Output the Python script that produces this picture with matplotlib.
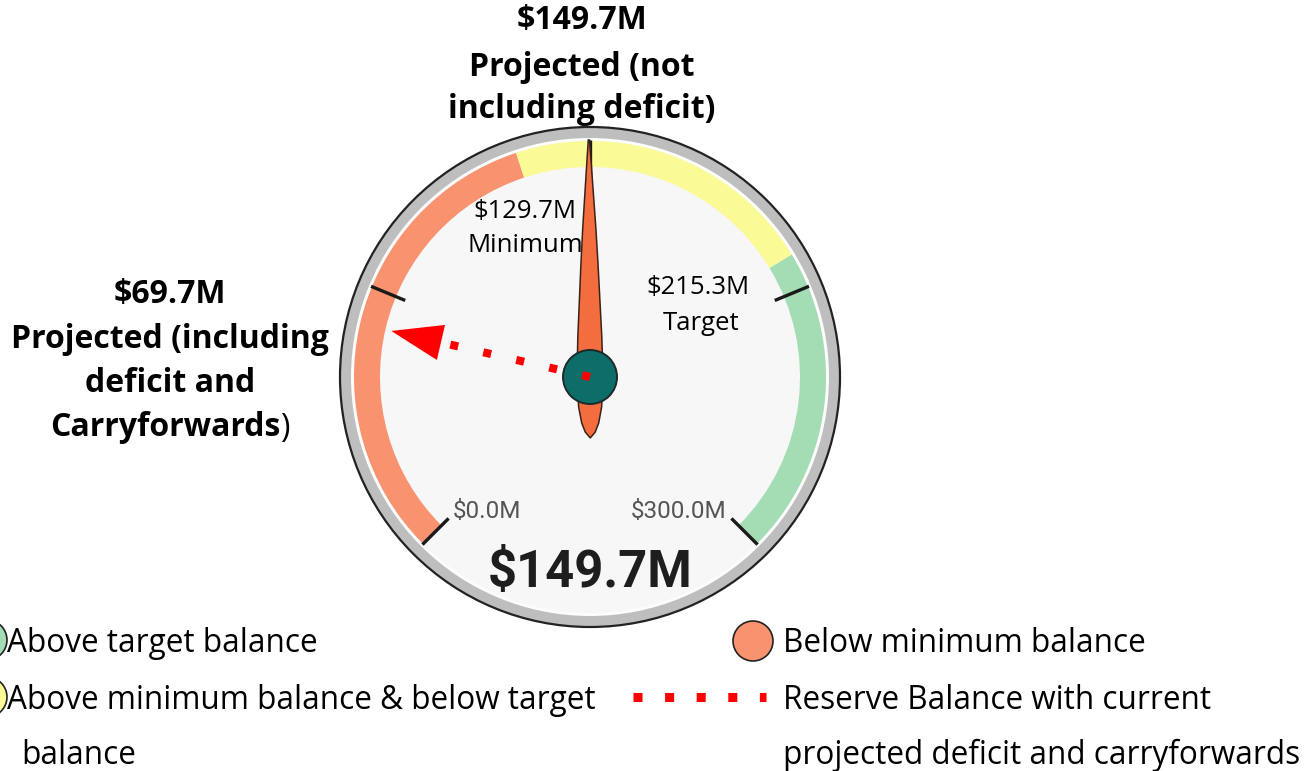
import numpy as np
import matplotlib.pyplot as plt
from matplotlib.patches import Circle, Wedge, Polygon

plt.rcParams['font.family'] = ['Open Sans', 'DejaVu Sans']

# dial data ($M)
scale_min, scale_max = 0.0, 300.0
band_edges = [0.0, 129.7, 215.3, 300.0]
band_colors = ['#F8926F', '#FAFA96', '#A4DCB4']
tick_values = [0, 75, 150, 225, 300]
needle_value = 149.7
minimum_value = 129.7
target_value = 215.3
with_deficit_value = 69.7
arrow_reading = 64.5  # where the hand drawn red arrow lands on the dial

legend_labels = ['Above target balance',
                 'Above minimum balance & below target',
                 'Below minimum balance',
                 'Reserve Balance with current']

W, H = 1310, 771
fig = plt.figure(figsize=(W / 100, H / 100), dpi=100)
ax = fig.add_axes([0, 0, 1, 1])
ax.set_xlim(0, W)
ax.set_ylim(0, H)
ax.set_aspect('equal')
ax.axis('off')


def Y(y):  # picture rows -> axis y
    return H - y


cx, cy = 590, Y(377)


def ang(v):
    return 225 - (v - scale_min) / (scale_max - scale_min) * 270


def pol(r, a):
    t = np.radians(a)
    return cx + r * np.cos(t), cy + r * np.sin(t)


# ring and face
ax.add_patch(Circle((cx, cy), 250, fc='#BEBEBE', ec='#222222', lw=1.6, zorder=1))
ax.add_patch(Circle((cx, cy), 239, fc='#FCFCFC', ec='none', zorder=1))
ax.add_patch(Circle((cx, cy), 236, fc='#F7F7F7', ec='none', zorder=1))

# colour bands
for lo, hi, c in zip(band_edges[:-1], band_edges[1:], band_colors):
    ax.add_patch(Wedge((cx, cy), 236, ang(hi), ang(lo), width=26, fc=c, ec='none', zorder=2))

# ticks
for v in tick_values:
    x0, y0 = pol(200, ang(v))
    x1, y1 = pol(237, ang(v))
    ax.plot([x0, x1], [y0, y1], color='#1a1a1a', lw=2.4, solid_capstyle='butt', zorder=3)

# needle
a = np.radians(ang(needle_value))
d = np.array([np.cos(a), np.sin(a)])
p = np.array([-np.sin(a), np.cos(a)])
profile = [(237, 0.6), (205, 2.8), (150, 6.5), (114, 8.5), (40, 12), (0, 13),
           (-30, 11.5), (-46, 8.5), (-55, 5), (-61, 0)]
pts = [np.array([cx, cy]) + s * d + w * p for s, w in profile]
pts += [np.array([cx, cy]) + s * d - w * p for s, w in profile[::-1]]
ax.add_patch(Polygon(pts, closed=True, fc='#F36D3E', ec='#3a2218', lw=1.1, zorder=5))

# hub
ax.add_patch(Circle((cx, cy), 27, fc='#0D6D68', ec='#1c2a2a', lw=1.4, zorder=6))

# red dotted arrow
aa = ang(arrow_reading)
bx, by = pol(153, aa)
ax.plot([cx, bx], [cy, by], color='#FF0000', lw=5.8, ls=(0, (1, 3.2)),
        dash_capstyle='butt', zorder=7)
t = np.radians(aa)
d2 = np.array([np.cos(t), np.sin(t)])
p2 = np.array([-np.sin(t), np.cos(t)])
tip = np.array([cx, cy]) + 204 * d2
base = np.array([cx, cy]) + 153 * d2
ax.add_patch(Polygon([tip, base + 18 * p2, base - 18 * p2], closed=True,
                     fc='#FF0000', ec='none', zorder=7))

# dial labels
lab = dict(ha='center', va='center', fontsize=18.5, zorder=4)
ax.text(525, Y(212), f'${minimum_value}M', **lab)
ax.text(525, Y(246), 'Minimum', **lab)
ax.text(698, Y(287), f'${target_value}M', **lab)
ax.text(701, Y(323), 'Target', **lab)
ax.text(487, Y(511), f'${scale_min:.1f}M', ha='center', va='center', fontsize=17.5,
        family='Roboto', color='#555555', zorder=4)
ax.text(679, Y(511), f'${scale_max:.1f}M', ha='center', va='center', fontsize=17.5,
        family='Roboto', color='#555555', zorder=4)
ax.text(590, Y(573), f'${needle_value}M', ha='center', va='center', fontsize=36.5,
        family='Roboto', weight='bold', color='#1e1e1e', zorder=4)

# callouts
top_lines = [f'${needle_value}M', 'Projected (not', 'including deficit)']
for yy, s in zip([21, 67, 110], top_lines):
    ax.text(582, Y(yy), s, ha='center', va='center', fontsize=23, weight='bold')

left_lines = [f'${with_deficit_value}M', 'Projected (including', 'deficit and']
for yy, s in zip([295, 340, 384], left_lines):
    ax.text(170, Y(yy), s, ha='center', va='center', fontsize=23, weight='bold')
cf = ax.text(165, Y(428), 'Carryforwards', ha='center', va='center', fontsize=23, weight='bold')
ax.annotate(')', xy=(1, 0), xycoords=cf, ha='left', va='bottom', fontsize=23)

# legend
lg = dict(ha='left', va='baseline', fontsize=22.7)
ax.add_patch(Circle((-13, Y(640)), 20, fc=band_colors[2], ec='#222222', lw=1.2, clip_on=True))
ax.add_patch(Circle((-13, Y(697)), 20, fc=band_colors[1], ec='#222222', lw=1.2, clip_on=True))
ax.text(7, Y(652), legend_labels[0], **lg)
ax.text(7, Y(709), legend_labels[1], **lg)
ax.text(21, Y(764), 'balance', **lg)

ax.add_patch(Circle((753, Y(641)), 20, fc=band_colors[0], ec='#222222', lw=1.2))
ax.text(783, Y(652), legend_labels[2], **lg)
ax.plot([633, 766], [Y(697), Y(697)], color='#FF0000', lw=6.5, ls=(0, (1, 2.5)),
        dash_capstyle='butt')
ax.text(783, Y(709), legend_labels[3], **lg)
ax.text(783, Y(764), 'projected deficit and carryforwards', **lg)

fig.savefig('out.png', dpi=100, facecolor='white')
